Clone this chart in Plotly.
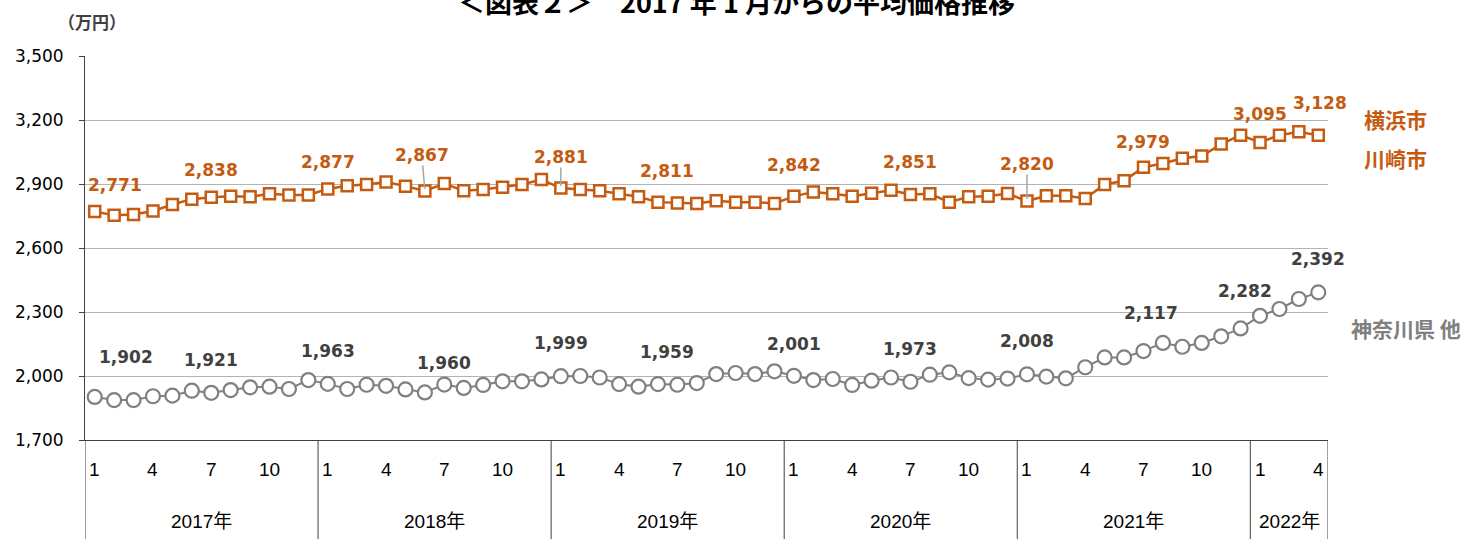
import plotly.graph_objects as go

# ---- data ----
months = list(range(64))  # 2017-01 .. 2022-04
years = ["2017年", "2018年", "2019年", "2020年", "2021年", "2022年"]
year_len = [12, 12, 12, 12, 12, 4]
month_ticks = ["1", "4", "7", "10"]

yokohama_kawasaki = [
    2771, 2753, 2757, 2773, 2804, 2829, 2838, 2843, 2840, 2854, 2849, 2849,
    2877, 2892, 2898, 2909, 2890, 2867, 2902, 2868, 2874, 2885, 2898, 2921,
    2881, 2874, 2868, 2854, 2840, 2815, 2811, 2809, 2821, 2815, 2815, 2809,
    2842, 2863, 2854, 2843, 2857, 2871, 2851, 2854, 2815, 2840, 2843, 2855,
    2820, 2845, 2845, 2832, 2898, 2915, 2979, 2996, 3021, 3031, 3087, 3129,
    3095, 3129, 3145, 3128,
]
kanagawa_other = [
    1902, 1887, 1887, 1905, 1908, 1931, 1921, 1934, 1947, 1950, 1939, 1981,
    1963, 1939, 1959, 1954, 1937, 1923, 1960, 1944, 1958, 1975, 1975, 1984,
    1999, 2000, 1993, 1962, 1950, 1962, 1959, 1967, 2009, 2014, 2009, 2022,
    2001, 1981, 1986, 1958, 1978, 1993, 1973, 2006, 2017, 1990, 1983, 1988,
    2008, 1997, 1989, 2041, 2087, 2087, 2117, 2155, 2137, 2155, 2186, 2223,
    2282, 2314, 2361, 2392,
]

# labelled points: (index, yshift px, xshift px, leader line)
orange_labels = [(0, 27, 20, False), (6, 27, 0, False), (12, 27, 0, False),
                 (17, 36, -3, True), (24, 31, 0, True), (30, 32, -10, False),
                 (36, 31, 0, False), (42, 32, 0, False), (48, 37, 0, True),
                 (54, 25, 0, False), (60, 28, 0, False), (63, 32, 2, False)]
gray_labels = [(0, 40, 31), (6, 33, 0), (12, 33, 0), (18, 22, 0), (24, 33, 0),
               (30, 33, -10), (36, 32, 0), (42, 33, 0), (48, 33, 0),
               (54, 38, 8), (60, 25, -15), (63, 33, 0)]

ORANGE = "#C55A11"
GRAY = "#808080"
DARK = "#404040"
NUM_FONT = "DejaVu Sans"
NARROW = "Liberation Sans Narrow, Liberation Sans, Noto Sans CJK JP"
JP = "Noto Sans CJK JP"

fig = go.Figure()
fig.add_trace(go.Scatter(
    x=months, y=kanagawa_other, mode="lines+markers",
    line=dict(color=GRAY, width=2),
    marker=dict(symbol="circle", size=14, color="white",
                line=dict(color=GRAY, width=2.2)),
    showlegend=False, hoverinfo="skip"))
fig.add_trace(go.Scatter(
    x=months, y=yokohama_kawasaki, mode="lines+markers",
    line=dict(color=ORANGE, width=2.5),
    marker=dict(symbol="square", size=11, color="white",
                line=dict(color=ORANGE, width=2.5)),
    showlegend=False, hoverinfo="skip"))

ann = []
for idx, ys, xs, leader in orange_labels:
    v = yokohama_kawasaki[idx]
    if leader:
        ann.append(dict(x=idx, y=v, xref="x", yref="y", text=f"<b>{v:,}</b>",
                        showarrow=True, arrowhead=0, arrowwidth=1.5,
                        arrowcolor="#A6A6A6", ax=xs, ay=-ys, standoff=2,
                        font=dict(family=NUM_FONT, size=17, color=ORANGE),
                        borderpad=0))
    else:
        ann.append(dict(x=idx, y=v, xref="x", yref="y", text=f"<b>{v:,}</b>",
                        showarrow=False, yshift=ys, xshift=xs,
                        xanchor="center", yanchor="middle",
                        font=dict(family=NUM_FONT, size=17, color=ORANGE)))
for idx, ys, xs in gray_labels:
    v = kanagawa_other[idx]
    ann.append(dict(x=idx, y=v, xref="x", yref="y", text=f"<b>{v:,}</b>",
                    showarrow=False, yshift=ys, xshift=xs,
                    xanchor="center", yanchor="middle",
                    font=dict(family=NUM_FONT, size=17, color=DARK)))

# category axis: months + years
shapes = []
start = 0
bounds = [-0.5]
for yname, n in zip(years, year_len):
    for k, m in enumerate(month_ticks):
        mi = 3 * k
        if mi < n:
            ann.append(dict(x=start + mi, y=-0.078, xref="x", yref="paper",
                            text=m, showarrow=False, xanchor="center",
                            yanchor="middle",
                            font=dict(family=NARROW, size=19, color="#000000")))
    ann.append(dict(x=start + (n - 1) / 2, y=-0.2135, xref="x", yref="paper",
                    text=yname, showarrow=False, xanchor="center",
                    yanchor="middle",
                    font=dict(family=NARROW, size=19, color="#000000")))
    start += n
    bounds.append(start - 0.5)
for b in bounds:
    shapes.append(dict(type="line", xref="x", yref="paper", x0=b, x1=b,
                       y0=0, y1=-0.26, line=dict(color="#404040", width=1)))

# side labels, unit, title
side = dict(showarrow=False, xref="paper", yref="paper",
            xanchor="center", yanchor="middle")
ann += [
    dict(x=1.054, y=0.836, text="<b>横浜市</b>",
         font=dict(family=JP, size=21, color=ORANGE), **side),
    dict(x=1.054, y=0.734, text="<b>川崎市</b>",
         font=dict(family=JP, size=21, color=ORANGE), **side),
    dict(x=1.063, y=0.2917, text="<b>神奈川県 他</b>",
         font=dict(family=JP, size=21, color=GRAY), **side),
    dict(x=0.0056, y=1.089, text="<b>（万円）</b>",
         font=dict(family=JP, size=17, color="#404040"), **side),
    dict(x=0.5245, y=1.142,
         text="<b>＜図表２＞　2017 年 1 月からの平均価格推移</b>",
         font=dict(family=JP, size=27, color="#000000"), **side),
]

fig.update_layout(
    width=1483, height=539,
    margin=dict(l=85, r=155, t=56, b=99),
    paper_bgcolor="white", plot_bgcolor="white",
    annotations=ann, shapes=shapes,
    xaxis=dict(range=[-0.5, 63.5], showticklabels=False, showgrid=False,
               zeroline=False, showline=True, linecolor="#404040",
               linewidth=1, ticks=""),
    yaxis=dict(range=[1700, 3500], dtick=300, tick0=1700, tickformat=",",
               showgrid=True, gridcolor="#B3B3B3", gridwidth=1,
               zeroline=False, showline=True, linecolor="#404040",
               linewidth=1, ticks="outside", ticklen=5, tickcolor="#404040",
               ticklabelstandoff=12,
               tickfont=dict(family=NUM_FONT, size=17, color="#000000")),
)

fig.write_html("out.html", config={"displayModeBar": False},
               post_script="document.body.style.margin='0px';")
